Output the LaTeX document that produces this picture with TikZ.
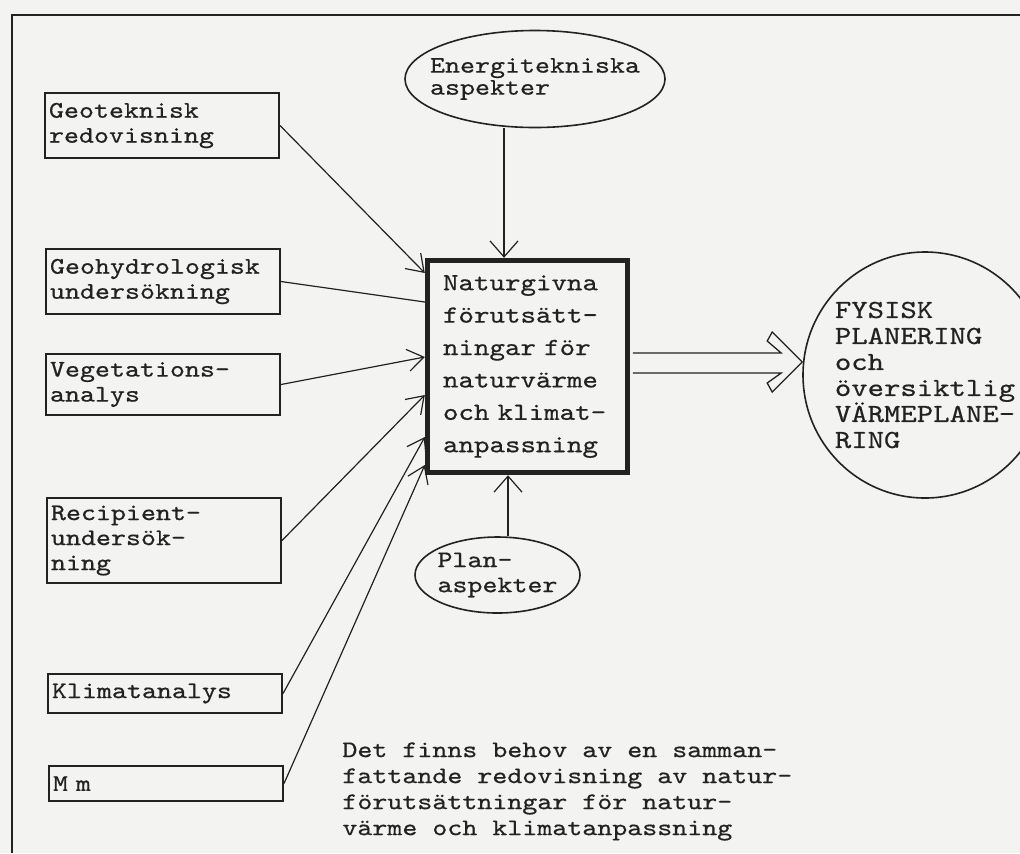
\documentclass[tikz,border=0pt]{standalone}
\usepackage{fontspec}
\newfontfamily\typew{lmmono10-regular.otf}[FakeStretch=1.2,FakeBold=0.6]
\usetikzlibrary{shapes.geometric,arrows.meta}
\definecolor{paper}{HTML}{F3F3F1}
\definecolor{ink}{HTML}{222222}
\begin{document}
\begin{tikzpicture}[x=0.5pt,y=-0.5pt,
  every node/.style={text=ink},
  inbox/.style={draw=ink, line width=1pt, rectangle, anchor=north west,
    minimum width=117pt, text width=113pt, inner xsep=2pt, inner ysep=0pt,
    align=left, font=\typew\fontsize{11.9}{12.5}\selectfont},
  core/.style={draw=ink, line width=2.7pt, rectangle,
    minimum width=100pt, minimum height=106pt, text width=84.5pt,
    inner xsep=7.75pt, align=left, font=\typew\fontsize{12.3}{16.2}\selectfont},
  oval/.style={draw=ink, line width=0.8pt, ellipse,
    inner xsep=-40pt, inner ysep=-20pt, align=left},
  feed/.style={draw=ink, line width=0.6pt, -{Straight Barb[length=8pt,width=11pt]}},
  feedv/.style={draw=ink, line width=0.6pt, -{Straight Barb[length=8pt,width=14pt]}},
  wire/.style={draw=ink, line width=0.6pt},
  hollow/.style={draw=ink, line width=0.65pt, line join=miter}
]
% page and paper
\fill[paper] (0,0) rectangle (1020,853);
\path[use as bounding box] (0,0) rectangle (1020,853);
\clip (0,0) rectangle (1020,853);

% frame
\draw[ink, line width=1.3pt] (12,853) -- (12,15) -- (1020,15);

% source boxes on the left
\node[inbox, minimum height=32.5pt] (geo)  at (44,92)  {Geoteknisk\\redovisning};
\node[inbox, minimum height=32.5pt] (hyd)  at (45,248) {Geohydrologisk\\undersökning};
\node[inbox, minimum height=30.5pt] (veg)  at (45,353) {Vegetations-\\analys};
\node[inbox, minimum height=42.5pt] (rec)  at (46,497) {Recipient-\\undersök-\\ning};
\node[inbox, minimum height=19.5pt] (klim) at (47,673) {Klimatanalys};
\node[inbox, minimum height=17.5pt] (mm)   at (48,765) {M m};

% central box
\node[core] (core) at (527.5,366.5)
  {Naturgivna\\förutsätt-\\ningar för\\naturvärme\\och klimat-\\anpassning};

% ellipses
\node[oval, minimum width=130pt, minimum height=48.5pt,
      font=\typew\fontsize{11.9}{11}\selectfont] (ener) at (535,79)
  {Energitekniska\\aspekter};
\node[oval, minimum width=82.5pt, minimum height=38pt,
      font=\typew\fontsize{11.9}{12.5}\selectfont] (plan) at (497.5,575)
  {Plan-\\aspekter};
\node[oval, minimum width=122pt, minimum height=123pt,
      font=\typew\fontsize{13}{13}\selectfont] (fys) at (925,375)
  {FYSISK\\PLANERING\\och\\översiktlig\\VÄRMEPLANE-\\RING};

% note
\node[anchor=north west, inner sep=0pt, align=left,
      font=\typew\fontsize{11.9}{13}\selectfont] (note) at (342,742)
  {Det finns behov av en samman-\\fattande redovisning av natur-\\förutsättningar för natur-\\värme och klimatanpassning};

% connectors into the central box
\draw[feed] (geo.east)  -- (core.west |- 0,273);
\draw[wire] (hyd.east)  -- (core.west |- 0,302);
\draw[feed] (veg.east)  -- (core.west |- 0,357);
\draw[feed] (rec.east)  -- (core.west |- 0,395);
\draw[feed] (klim.east) -- (core.west |- 0,437);
\draw[feed] (mm.east)   -- (core.west |- 0,465);
\draw[feedv] (ener.south -| 504,0) -- (core.north -| 504,0);
\draw[feedv] (plan.north -| 508,0) -- (core.south -| 508,0);

% outflow: hollow double arrow from the central box to the planning ellipse
\coordinate (tip) at (fys.west |- 0,362);
\draw[hollow] ([xshift=1.3pt]core.east |- 0,353)
  -- ([shift={(-21,-9)}]tip) -- ([shift={(-35,-21)}]tip)
  -- ([shift={(-30,-30)}]tip) -- (tip)
  -- ([shift={(-30,30)}]tip) -- ([shift={(-35,21)}]tip)
  -- ([shift={(-21,11)}]tip) -- ([xshift=1.3pt]core.east |- 0,373);
\end{tikzpicture}
\end{document}
